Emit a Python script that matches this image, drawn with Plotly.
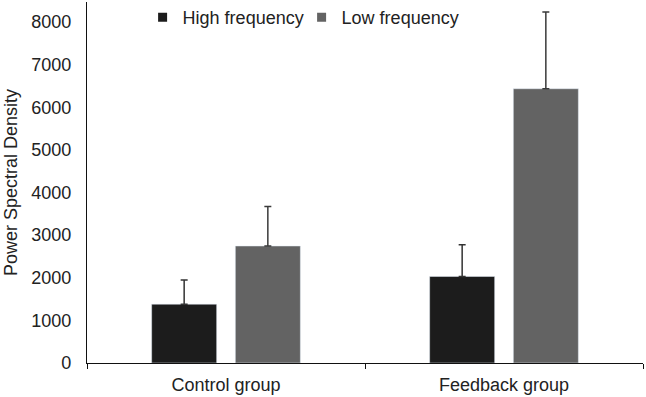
import plotly.graph_objects as go

categories = ["Control group", "Feedback group"]
high_freq = [1380, 2030]
low_freq = [2745, 6435]
high_err = [570, 745]
low_err = [925, 1800]
y_ticks = [0, 1000, 2000, 3000, 4000, 5000, 6000, 7000, 8000]

HIGH_COLOR = "#1c1c1c"
LOW_COLOR = "#636363"
FONT = "Liberation Sans, Arial, sans-serif"

fig = go.Figure()
fig.add_trace(go.Bar(
    x=categories, y=high_freq, name="High frequency", marker_color=HIGH_COLOR,
    showlegend=False,
    error_y=dict(type="data", array=high_err, arrayminus=[0] * len(high_err), symmetric=False,
                 color="#333333", thickness=1.5, width=3.5),
))
fig.add_trace(go.Bar(
    x=categories, y=low_freq, name="Low frequency", marker_color=LOW_COLOR,
    showlegend=False,
    error_y=dict(type="data", array=low_err, arrayminus=[0] * len(low_err), symmetric=False,
                 color="#3a3a3a", thickness=1.5, width=3.5),
))
# legend entries (small square swatches)
for name, col in [("High frequency", HIGH_COLOR), ("Low frequency", LOW_COLOR)]:
    fig.add_trace(go.Scatter(x=[None], y=[None], mode="markers", name=name,
                             marker=dict(symbol="square", size=9, color=col)))

fig.update_layout(
    width=646, height=397,
    margin=dict(l=87, r=3, t=2, b=34, autoexpand=False),
    paper_bgcolor="white", plot_bgcolor="white",
    font=dict(family=FONT, size=18, color="#222222"),
    barmode="group", bargap=0.398, bargroupgap=0.223,
    legend=dict(orientation="h", x=0.100, xanchor="left", y=1.008, yanchor="top",
                bgcolor="rgba(0,0,0,0)", font=dict(size=18), entrywidth=114),
    xaxis=dict(showline=True, linecolor="#111111", linewidth=1.3, automargin=False,
               ticks="outside", tickson="boundaries", ticklen=5, tickcolor="#111111",
               ticklabelstandoff=5,
               showgrid=False, zeroline=False),
    yaxis=dict(range=[0, 8470], tickvals=y_ticks, showline=True, linecolor="#111111",
               linewidth=1.3, ticks="", showgrid=False, zeroline=False, automargin=False,
               ticklabelstandoff=11,
               title=dict(text="Power Spectral Density", font=dict(size=18), standoff=8)),
)

fig.write_html("out.html", config={"displayModeBar": False},
               post_script="document.body.style.margin='0';")
